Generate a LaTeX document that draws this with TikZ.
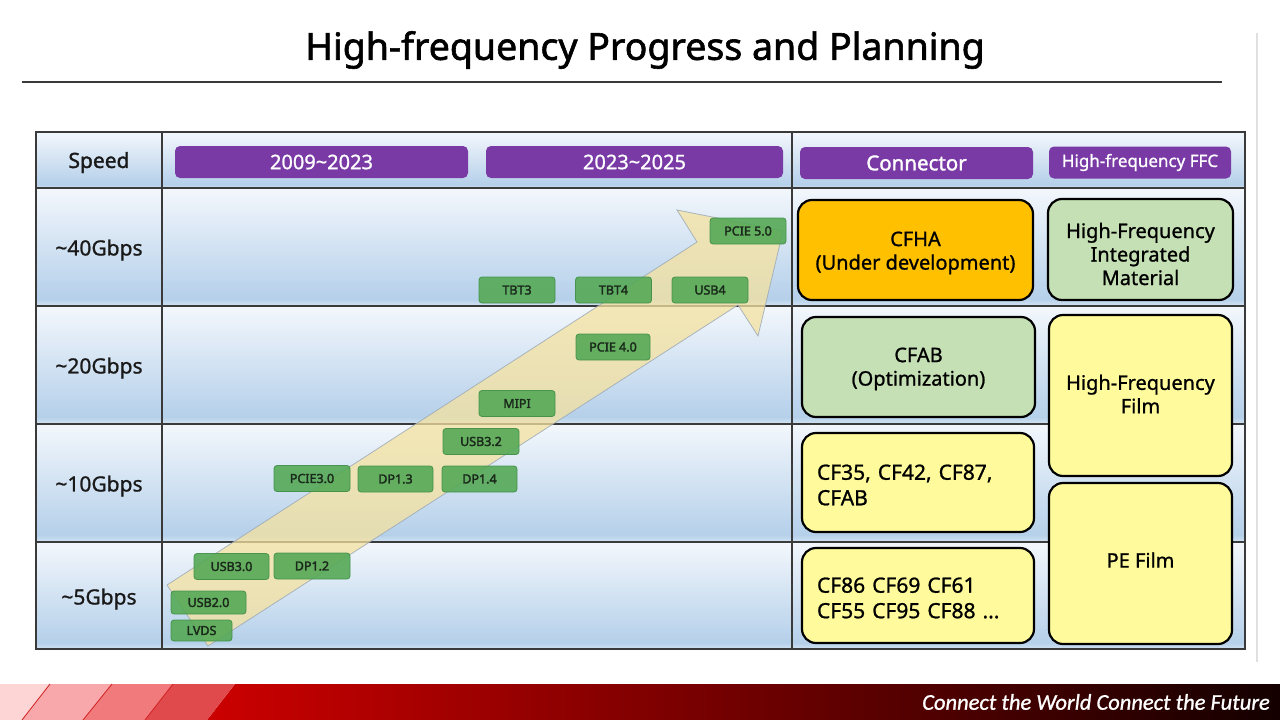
\documentclass[tikz,border=0pt]{standalone}
\usepackage{fontspec}
\setmainfont{Noto Sans}[FakeBold=1.0]
\newfontfamily\medfont{Noto Sans}[FakeBold=1.6]
\newfontfamily\tagfont{Noto Sans}[FakeBold=2.4]
\newfontfamily\footfont{Carlito}[FakeBold=1.0]
\definecolor{purplebar}{HTML}{7A3AA5}
\definecolor{taggreen}{HTML}{56A957}
\definecolor{tagborder}{HTML}{3E8E44}
\definecolor{tagtext}{HTML}{1A2A1A}
\definecolor{arrowfill}{HTML}{F5E2A0}
\definecolor{arrowline}{HTML}{9AA7B5}
\definecolor{gridcol}{HTML}{3A3A3A}
\definecolor{rowT}{HTML}{F3F7FC}
\definecolor{rowB}{HTML}{B5D0EA}
\definecolor{rowE}{HTML}{D2E3F2}
\definecolor{gold}{HTML}{FFC000}
\definecolor{lightgreen}{HTML}{C5E0B4}
\definecolor{lightyellow}{HTML}{FFFB9C}
\definecolor{pinkA}{HTML}{FDD5D5}
\definecolor{pinkB}{HTML}{F8A8AA}
\definecolor{pinkC}{HTML}{F07A7C}
\definecolor{pinkD}{HTML}{E04A4C}
\definecolor{footred}{HTML}{CC0000}
\definecolor{footdark}{HTML}{140000}
\definecolor{stripeline}{HTML}{D02020}
\pgfdeclareverticalshading{rowshade}{100bp}{color(0bp)=(rowE); color(25bp)=(rowE); color(28bp)=(rowB); color(75bp)=(rowT); color(100bp)=(rowT)}
\tikzset{
  pbar/.style={fill=purplebar, rounded corners=5pt, text=white, inner sep=0pt, minimum height=32pt},
  tag/.style={fill=taggreen, fill opacity=.9, text opacity=1, draw=tagborder, draw opacity=.9, line width=.8pt,
    rounded corners=3pt, inner sep=0pt, minimum width=76pt, minimum height=26pt, text=tagtext,
    font=\tagfont\fontsize{12.5}{15}\selectfont},
  rbox/.style={draw=black, line width=2.2pt, rounded corners=14pt, inner sep=0pt, align=center, text=black},
  boxtext/.style={font=\fontsize{20}{23.5}\selectfont, align=center, text=black, inner sep=0pt},
  cftext/.style={font=\fontsize{21}{25.5}\selectfont, text width=202pt, align=left, inner sep=0pt, text=black},
  rowlabel/.style={font=\fontsize{21}{24}\selectfont, text=black!90},
  gridline/.style={draw=gridcol, line width=1.4pt},
  arrowshape/.style={fill=arrowfill, fill opacity=.75, draw=arrowline, draw opacity=.8, line width=.8pt}
}
\begin{document}
\begin{tikzpicture}[x=1pt,y=-1pt]
\useasboundingbox (0,0) rectangle (1280,720);
\fill[white] (0,0) rectangle (1280,720);

% title
\node[font=\medfont\fontsize{37.5}{42}\selectfont, text=black] (title) at (645,50) {High-frequency Progress and Planning};
\coordinate (tl1) at (22,82);
\coordinate (tl2) at (1222,82);
\draw[gridcol, line width=2pt] (tl1) -- (tl2);
\coordinate (vl1) at (1257,33);
\coordinate (vl2) at (1257,662);
\draw[black!12, line width=2pt] (vl1) -- (vl2);

% table rows
\foreach \ya/\yb in {132/188,188/306,306/424,424/542,542/649}{
  \shade[shading=rowshade] (36,\ya) rectangle (1245,\yb);
}
\draw[gridline] (36,132) rectangle (1245,649);
\foreach \yy in {188,306,424,542}{ \draw[gridline] (36,\yy) -- (1245,\yy); }
\draw[gridline] (162,132) -- (162,649);
\draw[gridline] (792,132) -- (792,649);

% header
\node[rowlabel, font=\medfont\fontsize{21}{24}\selectfont] (speed) at (99,162.5) {Speed};
\node[pbar, minimum width=293pt, font=\fontsize{20}{22}\selectfont] (p1) at (321.5,162) {2009\textasciitilde 2023};
\node[pbar, minimum width=297pt, font=\fontsize{20}{22}\selectfont] (p2) at (634.5,162) {2023\textasciitilde 2025};
\node[pbar, minimum width=233pt, font=\medfont\fontsize{20.5}{22}\selectfont] (p3) at (916.5,163) {Connector};
\node[pbar, minimum width=182pt, font=\fontsize{17}{20}\selectfont] (p4) at (1140,162.5) {High-frequency FFC};

% row labels
\node[rowlabel] (r40) at (99,250) {\textasciitilde 40Gbps};
\node[rowlabel] (r20) at (99,368) {\textasciitilde 20Gbps};
\node[rowlabel] (r10) at (99,486) {\textasciitilde 10Gbps};
\node[rowlabel] (r5) at (99,599) {\textasciitilde 5Gbps};

% big arrow
\draw[arrowshape] (167,585) -- (697,242) -- (677,210) -- (783,231) -- (758,336) -- (738,305) -- (208,646) -- cycle;

% tags
\node[tag] (pcie5) at (748,231) {PCIE 5.0};
\node[tag] (tbt3) at (517,290) {TBT3};
\node[tag] (tbt4) at (613.5,290) {TBT4};
\node[tag] (usb4) at (710,290) {USB4};
\node[tag, minimum width=74pt] (pcie4) at (613,347) {PCIE 4.0};
\node[tag] (mipi) at (517,403.5) {MIPI};
\node[tag] (usb32) at (481,441.5) {USB3.2};
\node[tag, minimum width=75pt] (dp14) at (479.5,479) {DP1.4};
\node[tag] (pcie3) at (312,478.5) {PCIE3.0};
\node[tag, minimum width=75pt] (dp13) at (395.5,479) {DP1.3};
\node[tag, minimum width=75pt] (usb30) at (231.5,566.5) {USB3.0};
\node[tag] (dp12) at (312,566) {DP1.2};
\node[tag, minimum width=75pt, minimum height=23pt] (usb20) at (208.5,602.5) {USB2.0};
\node[tag, minimum width=61pt, minimum height=21pt] (lvds) at (201.5,630.5) {LVDS};

% right boxes
\node[rbox, fill=gold, minimum width=235pt, minimum height=100pt] (cfha) at (915.5,250) {};
\node[boxtext] (cfhatext) at (915.5,253) {CFHA\\(Under development)};
\node[rbox, fill=lightgreen, minimum width=185pt, minimum height=101pt] (hfim) at (1140.5,249.5) {};
\node[boxtext] (hfimtext) at (1140.5,254) {High-Frequency\\Integrated\\Material};
\node[rbox, fill=lightgreen, minimum width=233pt, minimum height=100pt] (cfab) at (918.5,367) {};
\node[boxtext] (cfabtext) at (918.5,369) {CFAB\\(Optimization)};
\node[rbox, fill=lightyellow, minimum width=183pt, minimum height=161pt] (hffilm) at (1140.5,395.5) {};
\node[boxtext] (hffilmtext) at (1140.5,394) {High-Frequency\\Film};
\node[rbox, fill=lightyellow, minimum width=232pt, minimum height=99pt] (cf35) at (918,482.5) {};
\node[cftext] (cf35text) at (918,485) {CF35, CF42, CF87,\\CFAB};
\node[rbox, fill=lightyellow, minimum width=232pt, minimum height=95pt] (cf86) at (918,595.5) {};
\node[cftext] (cf86text) at (918,598) {CF86 CF69 CF61\\CF55 CF95 CF88 ...};
\node[rbox, fill=lightyellow, minimum width=183pt, minimum height=161pt] (pefilm) at (1140.5,563.5) {};
\node[boxtext] (pefilmtext) at (1140.5,560) {PE Film};

% footer
\shade[left color=footred, right color=footdark] (207,720) -- (235,684) -- (1280,684) -- (1280,720) -- cycle;
\fill[pinkA] (0,684) -- (50,684) -- (22,720) -- (0,720) -- cycle;
\fill[pinkB] (50,684) -- (112,684) -- (83,720) -- (22,720) -- cycle;
\fill[pinkC] (112,684) -- (173,684) -- (145,720) -- (83,720) -- cycle;
\fill[pinkD] (173,684) -- (235,684) -- (207,720) -- (145,720) -- cycle;
\draw[stripeline, line width=.8pt] (50,684) -- (22,720) (112,684) -- (83,720) (173,684) -- (145,720);
\node[anchor=east, text=white, font=\footfont\itshape\fontsize{22.5}{24}\selectfont, inner sep=0pt] (foottext) at (1270,702) {Connect the World Connect the Future};
\end{tikzpicture}
\end{document}
